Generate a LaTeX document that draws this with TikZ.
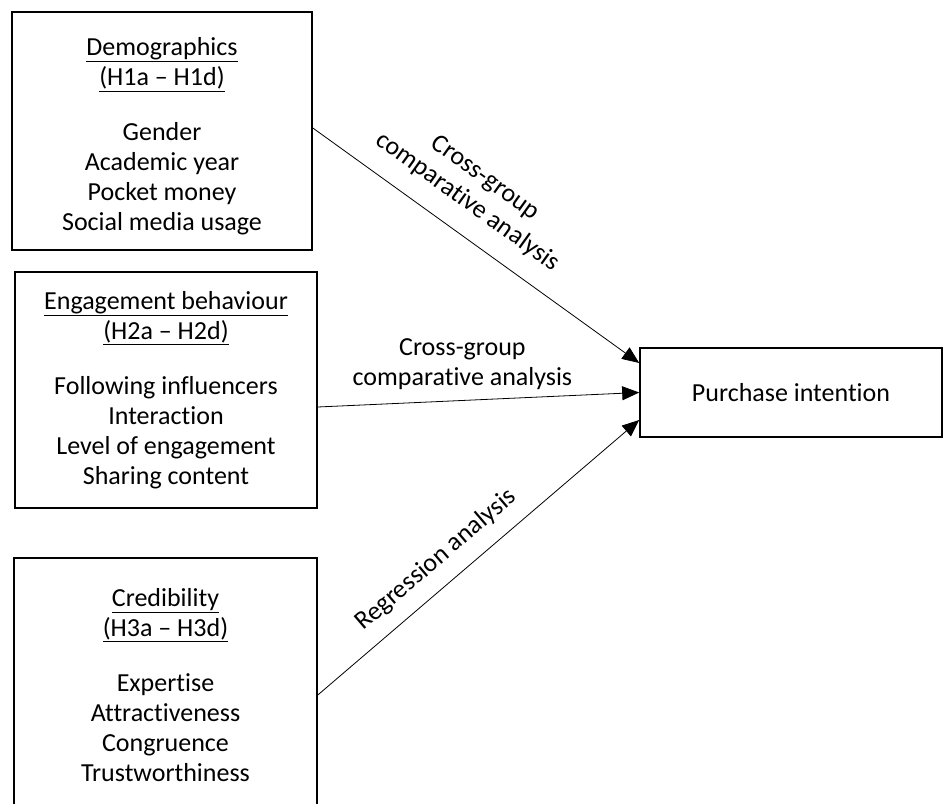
\documentclass[tikz,border=0pt]{standalone}
\usepackage{fontspec}
\setmainfont{Carlito}[Ligatures=NoCommon]
\usetikzlibrary{arrows.meta}

\begin{document}
\begin{tikzpicture}[x=1pt, y=1pt,
    box/.style={draw, line width=1.6pt, align=center, font=\fontsize{26}{30}\selectfont},
    link/.style={-{Triangle[length=17pt,width=14pt]}, line width=0.8pt},
    lbl/.style={align=center, inner sep=2pt, font=\fontsize{26}{30}\selectfont}]
  \useasboundingbox (0,0) rectangle (944,803);
  \node[box, minimum width=300pt, minimum height=238pt] (demo) at (162,672)
    {\rule{0pt}{29pt}\underline{Demographics}\\\underline{(H1a – H1d)}\\[25pt]Gender\\Academic year\\Pocket money\\Social media usage};
  \node[box, minimum width=302pt, minimum height=236pt] (engage) at (166,413)
    {\underline{Engagement behaviour}\\\underline{(H2a – H2d)}\\[25pt]Following influencers\\Interaction\\Level of engagement\\Sharing content};
  \node[box, minimum width=303pt, minimum height=254pt] (cred) at (165.5,118)
    {\underline{Credibility}\\\underline{(H3a – H3d)}\\[25pt]Expertise\\Attractiveness\\Congruence\\Trustworthiness};
  \node[box, minimum width=302pt, minimum height=89pt] (buy) at (791,410.5) {Purchase intention};
  \draw[link] ([yshift=3pt]demo.east) -- node[lbl, sloped, above=17pt, pos=0.42]{Cross-group\\comparative analysis} ([yshift=29.5pt]buy.west);
  \draw[link] ([yshift=-17pt]engage.east) -- node[lbl, above=8pt, pos=0.45]{Cross-group\\comparative analysis} (buy.west);
  \draw[link] ([yshift=-10pt]cred.east) -- node[lbl, sloped, above=12pt, pos=0.42]{Regression analysis} ([yshift=-27.5pt]buy.west);
\end{tikzpicture}
\end{document}
